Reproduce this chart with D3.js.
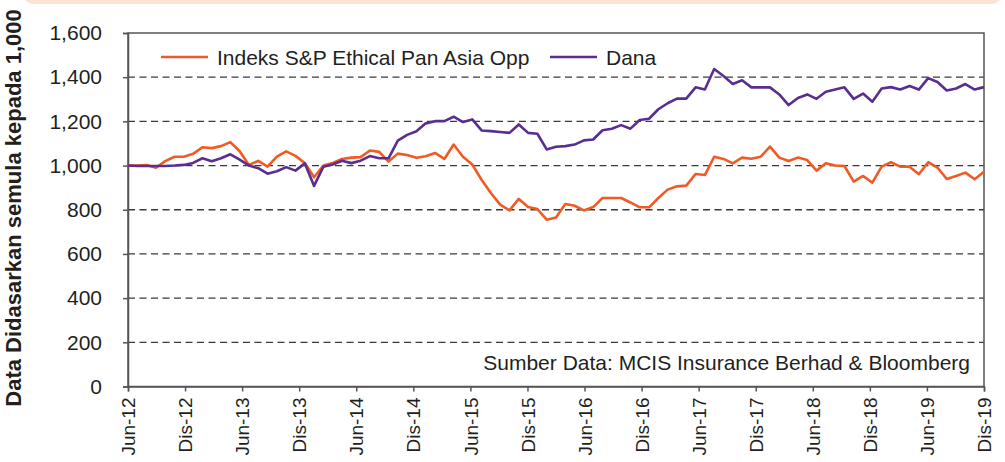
<!DOCTYPE html>
<html>
<head>
<meta charset="utf-8">
<script src="https://cdn.jsdelivr.net/npm/d3@7"></script>
<style>
  body { margin: 0; background: #fff; }
  svg { display: block; font-family: "Liberation Sans", Arial, sans-serif; }
</style>
</head>
<body>
<svg id="chart" width="1005" height="462"></svg>
<script>
// x-axis labels, every six months
var tickLabels = ["Jun-12", "Dis-12", "Jun-13", "Dis-13", "Jun-14", "Dis-14", "Jun-15", "Dis-15",
                  "Jun-16", "Dis-16", "Jun-17", "Dis-17", "Jun-18", "Dis-18", "Jun-19", "Dis-19"];
var yTicks = [0, 200, 400, 600, 800, 1000, 1200, 1400, 1600];

var seriesNames = ["Indeks S&P Ethical Pan Asia Opp", "Dana"];

// Indeks S&P Ethical Pan Asia Opp
var indeks = [1000, 1000, 1002, 990, 1020, 1040, 1040, 1053, 1083, 1079,
              1088, 1106, 1065, 1003, 1021, 995, 1040, 1064, 1044, 1012,
              947, 1000, 1012, 1030, 1036, 1038, 1068, 1062, 1018, 1054,
              1048, 1035, 1042, 1057, 1030, 1095, 1040, 1005, 936, 876,
              823, 797, 849, 812, 803, 755, 765, 826, 818, 797,
              812, 853, 853, 853, 833, 811, 811, 853, 891, 906,
              909, 962, 957, 1040, 1030, 1010, 1036, 1031, 1040, 1086,
              1036, 1021, 1036, 1025, 977, 1010, 1000, 998, 927, 953,
              923, 995, 1015, 995, 995, 961, 1015, 991, 939, 953,
              968, 938, 972];

// Dana
var dana = [1000, 998, 998, 998, 998, 1000, 1003, 1012, 1033, 1020,
            1033, 1051, 1027, 1000, 988, 963, 974, 993, 977, 1010,
            908, 995, 1005, 1022, 1011, 1022, 1043, 1033, 1033, 1113,
            1139, 1155, 1191, 1201, 1201, 1221, 1197, 1209, 1159, 1156,
            1152, 1148, 1186, 1148, 1144, 1073, 1085, 1088, 1095, 1114,
            1118, 1160, 1167, 1183, 1167, 1206, 1212, 1255, 1282, 1303,
            1303, 1354, 1344, 1437, 1405, 1369, 1386, 1354, 1354, 1354,
            1322, 1274, 1306, 1322, 1302, 1334, 1344, 1354, 1302, 1326,
            1289, 1349, 1355, 1344, 1360, 1344, 1396, 1378, 1340, 1349,
            1369, 1344, 1355];

var colors = ["#f15a24", "#5a2d91"];

var svg = d3.select("#chart");
var plotLeft = 128, plotRight = 984, plotTop = 33, plotBottom = 386.5;

// peach band at the very top
svg.append("rect")
    .attr("x", 24).attr("y", -30).attr("width", 977).attr("height", 34)
    .attr("rx", 9).attr("fill", "#fde3d3");

var x = d3.scaleLinear().domain([0, indeks.length - 1]).range([plotLeft, plotRight]);
var xLab = d3.scalePoint().domain(tickLabels).range([plotLeft, plotRight]);
var y = d3.scaleLinear().domain([0, 1600]).range([plotBottom, plotTop]);

// dashed grid
svg.append("g").selectAll("line")
    .data(yTicks.filter(function(d) { return d > 0 && d < 1600; }))
    .enter().append("line")
    .attr("x1", plotLeft).attr("x2", plotRight)
    .attr("y1", function(d) { return y(d); })
    .attr("y2", function(d) { return y(d); })
    .attr("stroke", "#3a3a3a").attr("stroke-width", 1.3)
    .attr("stroke-dasharray", "7,4.5");

// frame
svg.append("rect")
    .attr("x", plotLeft).attr("y", plotTop)
    .attr("width", plotRight - plotLeft).attr("height", plotBottom - plotTop)
    .attr("fill", "none").attr("stroke", "#555").attr("stroke-width", 1.5);

// y axis
var yAxis = svg.append("g")
    .attr("transform", "translate(" + plotLeft + ",0)")
    .call(d3.axisLeft(y).tickValues(yTicks).tickSize(5).tickPadding(21)
        .tickFormat(d3.format(",")));
yAxis.select(".domain").attr("stroke", "#555").attr("stroke-width", 1.5);
yAxis.selectAll(".tick line").attr("stroke", "#555").attr("stroke-width", 1.5);
yAxis.selectAll("text").attr("font-size", 21).attr("fill", "#231f20")
    .attr("font-family", "Liberation Sans, Arial, sans-serif");

// x axis
var xAxis = svg.append("g")
    .attr("transform", "translate(0," + plotBottom + ")")
    .call(d3.axisBottom(xLab).tickSize(5).tickPadding(0));
xAxis.select(".domain").attr("stroke", "#555").attr("stroke-width", 1.5);
xAxis.selectAll(".tick line").attr("stroke", "#555").attr("stroke-width", 1.5);
xAxis.selectAll("text")
    .attr("font-size", 19).attr("fill", "#231f20")
    .attr("font-family", "Liberation Sans, Arial, sans-serif")
    .attr("text-anchor", "end")
    .attr("transform", "rotate(-90)")
    .attr("x", -11).attr("y", 0).attr("dy", "0.35em");

// lines
var line = d3.line()
    .x(function(d, i) { return x(i); })
    .y(function(d) { return y(d); });

[indeks, dana].forEach(function(s, k) {
  svg.append("path")
      .datum(s)
      .attr("fill", "none")
      .attr("stroke", colors[k])
      .attr("stroke-width", 2.6)
      .attr("stroke-linejoin", "round")
      .attr("d", line);
});

// legend
var legendX = [161, 550];
var leg = svg.append("g").selectAll("g").data(seriesNames).enter().append("g")
    .attr("transform", function(d, i) { return "translate(" + legendX[i] + ",57)"; });
leg.append("line").attr("x1", 0).attr("x2", 47).attr("y1", 0).attr("y2", 0)
    .attr("stroke", function(d, i) { return colors[i]; }).attr("stroke-width", 2.6);
leg.append("text").attr("x", 56).attr("y", 8)
    .attr("font-size", 21).attr("fill", "#231f20")
    .text(function(d) { return d; });

// source note
svg.append("text")
    .attr("x", 970).attr("y", 370)
    .attr("text-anchor", "end")
    .attr("font-size", 21).attr("fill", "#231f20")
    .text("Sumber Data: MCIS Insurance Berhad & Bloomberg");

// y axis title
svg.append("text")
    .attr("transform", "translate(21,208) rotate(-90)")
    .attr("text-anchor", "middle")
    .attr("font-size", 22).attr("font-weight", "bold").attr("fill", "#231f20")
    .text("Data Didasarkan semula kepada 1,000");
</script>
</body>
</html>
